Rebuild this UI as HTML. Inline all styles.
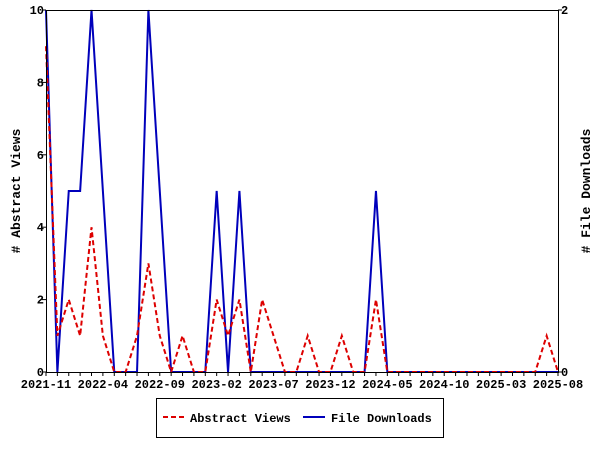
<!DOCTYPE html>
<html><head><meta charset="utf-8"><style>
html,body{margin:0;padding:0;background:#fff;}
svg{display:block;font-family:"Liberation Mono","DejaVu Sans Mono",monospace;font-weight:bold;}
</style></head><body>
<svg id="chart" width="600" height="450">
<rect x="0" y="0" width="600" height="450" fill="#fff"/>
<g id="grid"></g>
<g id="series"></g>
<g id="axes"></g>
<text transform="translate(20,191) rotate(-90)" text-anchor="middle" font-size="13">#&#160;Abstract&#160;Views</text>
<text transform="translate(590,191) rotate(-90)" text-anchor="middle" font-size="13">#&#160;File&#160;Downloads</text>
<g>
<rect x="156.5" y="398.5" width="287" height="39" fill="#fff" stroke="#000" stroke-width="1"/>
<line x1="163" y1="417" x2="184" y2="417" stroke="#dd0000" stroke-width="2" stroke-dasharray="5,3"/>
<text x="190" y="422" font-size="12">Abstract Views</text>
<line x1="303" y1="417" x2="325" y2="417" stroke="#0000bb" stroke-width="2"/>
<text x="331" y="422" font-size="12">File Downloads</text>
</g>
</svg>
<script>
const views = [9,1,2,1,4,1,0,0,1,3,1,0,1,0,0,2,1,2,0,2,1,0,0,1,0,0,1,0,0,2,0,0,0,0,0,0,0,0,0,0,0,0,0,0,1,0];
const downloads = [2,0,1,1,2,1,0,0,0,2,1,0,0,0,0,1,0,1,0,0,0,0,0,0,0,0,0,0,0,1,0,0,0,0,0,0,0,0,0,0,0,0,0,0,0,0];
const xLabels = ["2021-11","2022-04","2022-09","2023-02","2023-07","2023-12","2024-05","2024-10","2025-03","2025-08"];
const yTicks = [0,2,4,6,8,10];
const y2Ticks = [0,2];

const X0=46, X1=558, Y0=372, Y1=10;
const n = views.length;
const xs = i => X0 + i*(X1-X0)/(n-1);
const ys = v => Y0 - v*(Y0-Y1)/10;
const y2s = v => Y0 - v*(Y0-Y1)/2;
const NS="http://www.w3.org/2000/svg";
const axes=document.getElementById('axes');
const series=document.getElementById('series');
function mk(tag, attrs, parent){const e=document.createElementNS(NS,tag);for(const k in attrs)e.setAttribute(k,attrs[k]);parent.appendChild(e);return e;}

const frame=mk('rect',{x:X0+0.5,y:Y1+0.5,width:X1-X0,height:Y0-Y1,fill:'none',stroke:'#000','stroke-width':1},axes);



for(let i=0;i<n;i++){
  const t=mk('line',{x1:xs(i),x2:xs(i),y1:Y0,y2:Y0+4,stroke:'#000'},axes);
  
  
}
xLabels.forEach((l,k)=>{
  const t=mk('text',{x:xs(k*5),y:Y0+16,'text-anchor':'middle','font-size':12},axes);
  t.textContent=l;
  
  
});
yTicks.forEach(v=>{
  const t=mk('line',{x1:X0-4,x2:X0,y1:ys(v),y2:ys(v),stroke:'#000'},axes);
  
  
  const l=mk('text',{x:X0-2,y:ys(v)+4,'text-anchor':'end','font-size':12},axes);
  l.textContent=v;
  
  
});
y2Ticks.forEach(v=>{
  const t=mk('line',{x1:X1,x2:X1+4,y1:y2s(v),y2:y2s(v),stroke:'#000'},axes);
  
  
  const l=mk('text',{x:X1+3,y:y2s(v)+4,'font-size':12},axes);
  l.textContent=v;
  
  
});

const dPts=downloads.map((v,i)=>xs(i)+','+y2s(v)).join(' ');
const dl=mk('polyline',{points:dPts,fill:'none',stroke:'#0000bb','stroke-width':2,'stroke-linejoin':'miter'},series);


const vPts=views.map((v,i)=>xs(i)+','+ys(v)).join(' ');
const vl=mk('polyline',{points:vPts,fill:'none',stroke:'#dd0000','stroke-width':2,'stroke-dasharray':'5,3'},series);


</script>
</body></html>
